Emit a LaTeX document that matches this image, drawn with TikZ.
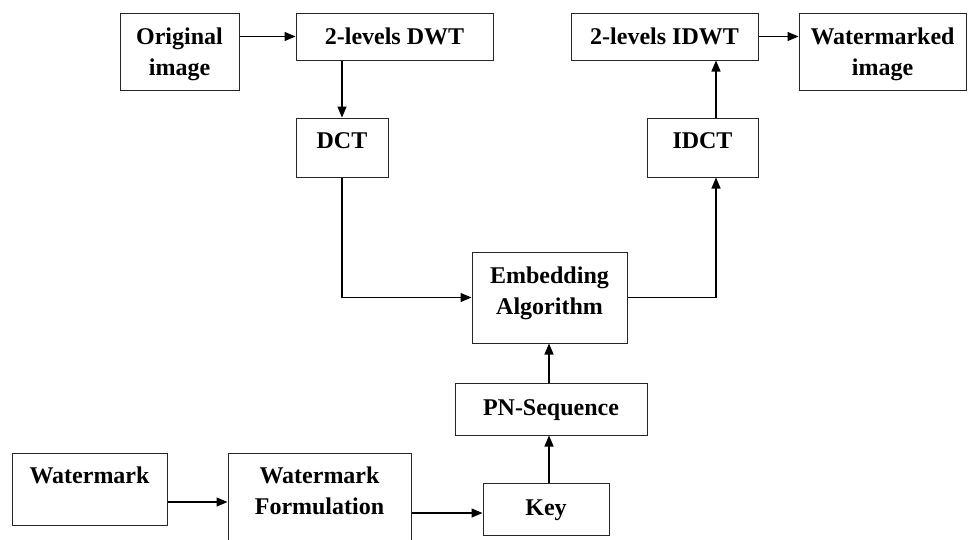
\documentclass[tikz,border=0pt]{standalone}
\usepackage{fontspec}
\setmainfont{Liberation Serif}
\usetikzlibrary{arrows.meta}
\begin{document}
\begin{tikzpicture}[x=1pt,y=-1pt,
  box/.style={draw=black!85,line width=1pt,inner sep=0pt,fill=none},
  txt/.style={anchor=north,inner sep=0pt,align=center,font=\fontsize{24}{31}\selectfont\bfseries},
  arr/.style={line width=1.3pt,-{Triangle[length=11pt,width=9pt]}}]
\useasboundingbox (0,0) rectangle (968,539);
% boxes
\node[box,minimum width=119pt,minimum height=77pt] (orig) at (179.5,51.5) {};
\node[box,minimum width=197pt,minimum height=47pt] (dwt) at (394.5,36.5) {};
\node[box,minimum width=92pt,minimum height=59pt] (dct) at (342,147.5) {};
\node[box,minimum width=187pt,minimum height=47pt] (idwt) at (664.5,36.5) {};
\node[box,minimum width=167pt,minimum height=77pt] (wimg) at (882.5,51.5) {};
\node[box,minimum width=111pt,minimum height=59pt] (idct) at (702.5,147.5) {};
\node[box,minimum width=155pt,minimum height=91pt] (emb) at (549.5,297.5) {};
\node[box,minimum width=192pt,minimum height=52pt] (pn) at (551,409) {};
\node[box,minimum width=126pt,minimum height=52pt] (key) at (546,509) {};
\node[box,minimum width=155pt,minimum height=72pt] (wm) at (89.5,489) {};
\node[box,minimum width=183pt,minimum height=92pt] (wf) at (319.5,499) {};
% texts
\node[txt] at ([yshift=-15pt]orig.north) {Original\\image};
\node[txt] at ([yshift=-15pt]dwt.north) {2-levels DWT};
\node[txt] at ([yshift=-15pt]dct.north) {DCT};
\node[txt] at ([yshift=-15pt]idwt.north) {2-levels IDWT};
\node[txt] at ([yshift=-15pt]wimg.north) {Watermarked\\image};
\node[txt] at ([yshift=-15pt]idct.north) {IDCT};
\node[txt] at ([yshift=-15pt]emb.north) {Embedding\\Algorithm};
\node[txt] at ([yshift=-17pt]pn.north) {PN-Sequence};
\node[txt] at ([yshift=-17pt]key.north) {Key};
\node[txt] at ([yshift=-14pt]wm.north) {Watermark};
\node[txt] at ([yshift=-14pt]wf.north) {Watermark\\Formulation};
% helper coordinates
\coordinate (rx) at (716,0);
\coordinate (ux) at (549,0);
% connectors
\draw[arr] (dwt.west -| orig.east) -- (dwt.west);
\draw[arr] (dct.north |- dwt.south) -- (dct.north);
\draw[arr] (dct.south) |- (emb.west);
\draw[arr] (emb.east) -| (rx |- idct.south);
\draw[arr] (rx |- idct.north) -- (rx |- idwt.south);
\draw[arr] (idwt.east) -- (wimg.west |- idwt.east);
\draw[arr] (ux |- pn.north) -- (ux |- emb.south);
\draw[arr] (ux |- key.north) -- (ux |- pn.south);
\draw[arr] ([yshift=-13pt]wm.east) -- ([yshift=-13pt]wm.east -| wf.west);
\draw[arr] ([yshift=-14pt]wf.east) -- ([yshift=-14pt]wf.east -| key.west);
\end{tikzpicture}
\end{document}
